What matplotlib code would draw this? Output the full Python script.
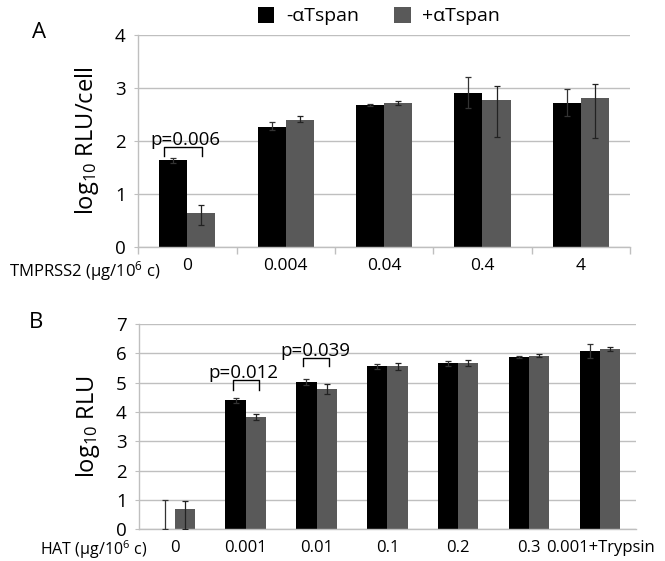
import matplotlib
matplotlib.use("Agg")
import matplotlib.pyplot as plt
import numpy as np

FONT = "Open Sans"
plt.rcParams['font.family'] = [FONT, 'DejaVu Sans']
plt.rcParams['mathtext.fontset'] = 'custom'
plt.rcParams['mathtext.rm'] = FONT
plt.rcParams['mathtext.it'] = FONT
plt.rcParams['mathtext.bf'] = FONT

# ---------------- data ----------------
a_categories = ['0', '0.004', '0.04', '0.4', '4']
a_minus = [1.63, 2.27, 2.68, 2.91, 2.72]
a_minus_err_lo = [0.05, 0.07, 0.02, 0.30, 0.25]
a_minus_err_hi = [0.05, 0.08, 0.02, 0.30, 0.25]
a_plus = [0.64, 2.40, 2.72, 2.77, 2.81]
a_plus_err_lo = [0.22, 0.05, 0.04, 0.69, 0.75]
a_plus_err_hi = [0.15, 0.06, 0.04, 0.26, 0.26]

b_categories = ['0', '0.001', '0.01', '0.1', '0.2', '0.3', '0.001+Trypsin']
b_minus = [0.0, 4.39, 5.01, 5.56, 5.66, 5.87, 6.08]
b_minus_err_lo = [0.0, 0.09, 0.10, 0.08, 0.09, 0.04, 0.25]
b_minus_err_hi = [1.0, 0.09, 0.10, 0.08, 0.09, 0.04, 0.25]
b_plus = [0.70, 3.84, 4.79, 5.55, 5.66, 5.91, 6.14]
b_plus_err_lo = [0.70, 0.10, 0.18, 0.12, 0.11, 0.05, 0.08]
b_plus_err_hi = [0.27, 0.10, 0.15, 0.12, 0.10, 0.05, 0.08]

series_labels = ['-\u03b1Tspan', '+\u03b1Tspan']
a_pvalue = 'p=0.006'
b_pvalues = ['p=0.012', 'p=0.039']

BLACK = '#000000'
GRAY = '#595959'
GRID = '#bfbfbf'
W = 0.285

fig = plt.figure(figsize=(6.65, 5.61), dpi=100)
axA = fig.add_axes([138.3/665, 1-247/561, (630-138.3)/665, (247-34.7)/561])
axB = fig.add_axes([139.3/665, 1-529.3/561, (635.5-139.3)/665, (529.3-323.9)/561])


def draw(ax, cats, m, mlo, mhi, p, plo, phi, ymax, xsize):
    x = np.arange(len(cats))
    ax.bar(x - W/2, m, W, color=BLACK, zorder=2, label=series_labels[0])
    ax.bar(x + W/2, p, W, color=GRAY, zorder=2, label=series_labels[1])
    ax.errorbar(x - W/2, m, yerr=[mlo, mhi], fmt='none', ecolor='#333333',
                elinewidth=0.9, capsize=2, capthick=0.9, zorder=3)
    ax.errorbar(x + W/2, p, yerr=[plo, phi], fmt='none', ecolor='#222222',
                elinewidth=0.9, capsize=2, capthick=0.9, zorder=3)
    ax.set_xlim(-0.5, len(cats) - 0.5)
    ax.set_ylim(0, ymax)
    ax.set_yticks(range(0, ymax + 1))
    ax.yaxis.grid(True, color=GRID, linewidth=1.0, zorder=0)
    ax.set_axisbelow(True)
    for s in ['top', 'right']:
        ax.spines[s].set_visible(False)
    for s in ['left', 'bottom']:
        ax.spines[s].set_color(GRID)
        ax.spines[s].set_linewidth(1.0)
    ax.tick_params(axis='y', length=3, color=GRID, labelsize=13.5, pad=6)
    ax.set_xticks(x)
    ax.set_xticklabels(cats)
    ax.tick_params(axis='x', which='major', length=0, labelsize=xsize, pad=8)


def bracket(ax, x0, x1, ylo, yhi, text, tx, ty):
    ax.plot([x0, x0, x1, x1], [ylo, yhi, yhi, ylo], color='black', lw=1.0, zorder=4)
    ax.text(tx, ty, text, ha='center', va='bottom', fontsize=13.5, zorder=5)


draw(axA, a_categories, a_minus, a_minus_err_lo, a_minus_err_hi,
     a_plus, a_plus_err_lo, a_plus_err_hi, 4, 12.5)
axA.set_xticks(np.arange(len(a_categories) + 1) - 0.5, minor=True)
axA.tick_params(axis='x', which='minor', length=5, color=GRID, width=1.0)
axA.set_ylabel('log$_{10}$ RLU/cell', fontsize=17, labelpad=10)
bracket(axA, -0.243, 0.147, 1.71, 1.88, a_pvalue, -0.02, 1.84)

draw(axB, b_categories, b_minus, b_minus_err_lo, b_minus_err_hi,
     b_plus, b_plus_err_lo, b_plus_err_hi, 7, 12)
axB.set_ylabel('log$_{10}$ RLU', fontsize=17, labelpad=10)
bracket(axB, 1 - 0.175, 1 + 0.19, 4.75, 5.08, b_pvalues[0], 1 - 0.03, 5.01)
bracket(axB, 2 - 0.19, 2 + 0.18, 5.55, 5.84, b_pvalues[1], 2 - 0.01, 5.77)

# legend
handles, labels = axA.get_legend_handles_labels()
fig.legend(handles, labels, loc='center', bbox_to_anchor=(379/665, 1-16/561),
           ncol=2, frameon=False, fontsize=14, handlelength=0.85, handleheight=0.9,
           columnspacing=1.8, handletextpad=0.6)

# panel letters
fig.text(39/665, 1-32/561, 'A', fontsize=16, ha='center', va='center')
fig.text(36/665, 1-322/561, 'B', fontsize=16, ha='center', va='center')

# axis row labels
fig.text(161/665, 1-271/561, 'TMPRSS2 (\u00b5g/10$^{6}$ c)', fontsize=12,
         ha='right', va='center')
fig.text(147/665, 1-550/561, 'HAT (\u00b5g/10$^{6}$ c)', fontsize=11.5,
         ha='right', va='center')

fig.savefig('out.png', dpi=100)
